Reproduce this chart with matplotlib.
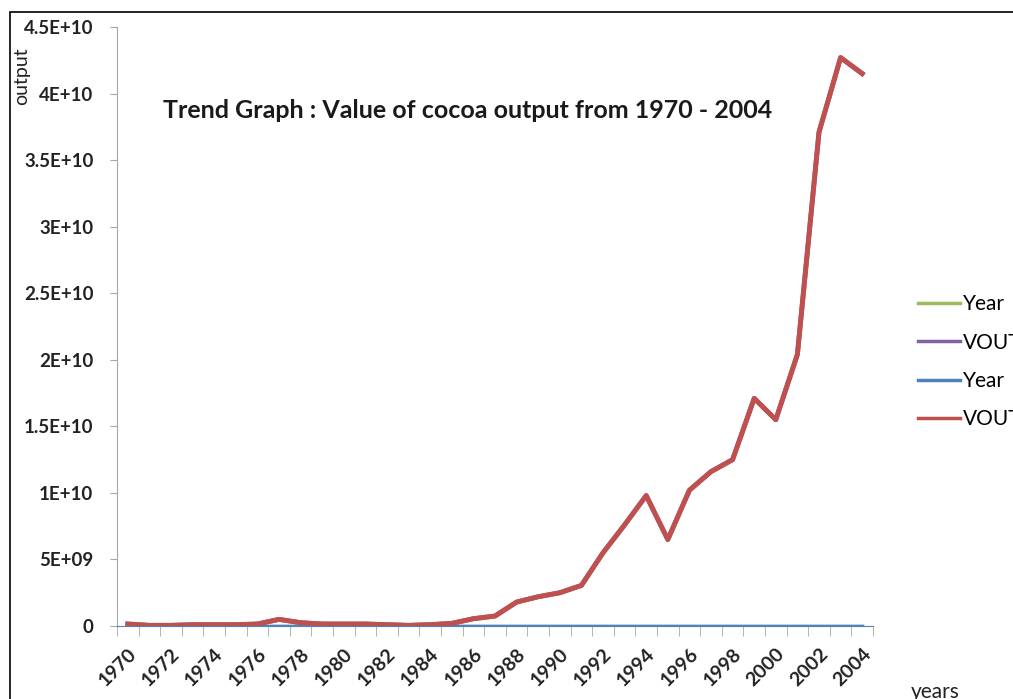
import numpy as np
import matplotlib.pyplot as plt
from matplotlib.patches import Rectangle
from matplotlib.lines import Line2D

plt.rcParams['font.family'] = ['Lato', 'DejaVu Sans']

years = list(range(1970, 2005))
# value of cocoa output, in units of 1e9
vout_bn = [0.15, 0.05, 0.05, 0.1, 0.1, 0.1, 0.15, 0.5, 0.25, 0.15,
           0.15, 0.15, 0.1, 0.05, 0.1, 0.2, 0.55, 0.75, 1.8, 2.2,
           2.5, 3.05, 5.5, 7.6, 9.8, 6.5, 10.2, 11.6, 12.5, 17.1,
           15.5, 20.4, 37.1, 42.7, 41.5]
vout = np.array(vout_bn) * 1e9
y_ticks = [0, 5e9, 1e10, 1.5e10, 2e10, 2.5e10, 3e10, 3.5e10, 4e10, 4.5e10]
y_labels = ['0', '5E+09', '1E+10', '1.5E+10', '2E+10', '2.5E+10',
            '3E+10', '3.5E+10', '4E+10', '4.5E+10']
legend_names = ['Year', 'VOUT', 'Year', 'VOUT']
legend_colors = ['#9bbb59', '#8064a2', '#4f81bd', '#c0504d']

fig = plt.figure(figsize=(10.13, 6.99), dpi=100)
ax = fig.add_axes([0.1155, 0.1044, 0.7463, 0.857])

x = np.arange(len(years))
ax.plot(x, years, color=legend_colors[0], lw=2.5)
ax.plot(x, vout, color=legend_colors[1], lw=3.5)
ax.plot(x, years, color=legend_colors[2], lw=2.5)
ax.plot(x, vout, color=legend_colors[3], lw=3.5)

ax.set_xlim(-0.5, len(years) - 0.5)
ax.set_ylim(0, 4.5e10)

for s in ['top', 'right']:
    ax.spines[s].set_visible(False)
ax.spines['left'].set_color('#a6a6a6')
ax.spines['bottom'].set_color('#4f81bd')

ax.set_yticks(y_ticks)
ax.set_yticklabels(y_labels, fontsize=13.5, fontweight='bold', color='#222222')
ax.tick_params(axis='y', length=5, color='#a6a6a6', pad=12)

ax.set_xticks(x[::2])
ax.set_xticklabels([str(y) for y in years[::2]], rotation=45, ha='right',
                   rotation_mode='anchor', fontsize=14, fontweight='bold',
                   color='#222222')
ax.tick_params(axis='x', which='major', length=0, pad=14)
ax.set_xticks(np.arange(-0.5, len(years)), minor=True)
ax.tick_params(axis='x', which='minor', length=7, color='#a6a6a6')

fig.text(163 / 1013, 1 - 110 / 699,
         'Trend Graph : Value of cocoa output from 1970 - 2004',
         va='center', fontsize=18, fontweight='bold', color='#1a1a1a')

fig.text(22 / 1013, 1 - 76 / 699, 'output', rotation=90, ha='center',
         va='center', fontsize=14, color='#222222')
fig.text(935 / 1013, 1 - 692 / 699, 'years', ha='center', va='center',
         fontsize=15, color='#222222')

# legend sits partly past the right edge of the figure
handles = [Line2D([], [], color=c, lw=2.5) for c in legend_colors]
fig.legend(handles, legend_names, loc='upper left',
           bbox_to_anchor=(910 / 1013, 1 - 286 / 699), frameon=False,
           fontsize=15, handlelength=2.0, handletextpad=0.15,
           labelspacing=0.88, borderaxespad=0)

fig.patches.append(Rectangle((10 / 1013, -0.1), 1.2, 1.1 - 12 / 699,
                             transform=fig.transFigure, fill=False,
                             edgecolor='black', lw=1.2))

fig.savefig('out.png', dpi=100)
